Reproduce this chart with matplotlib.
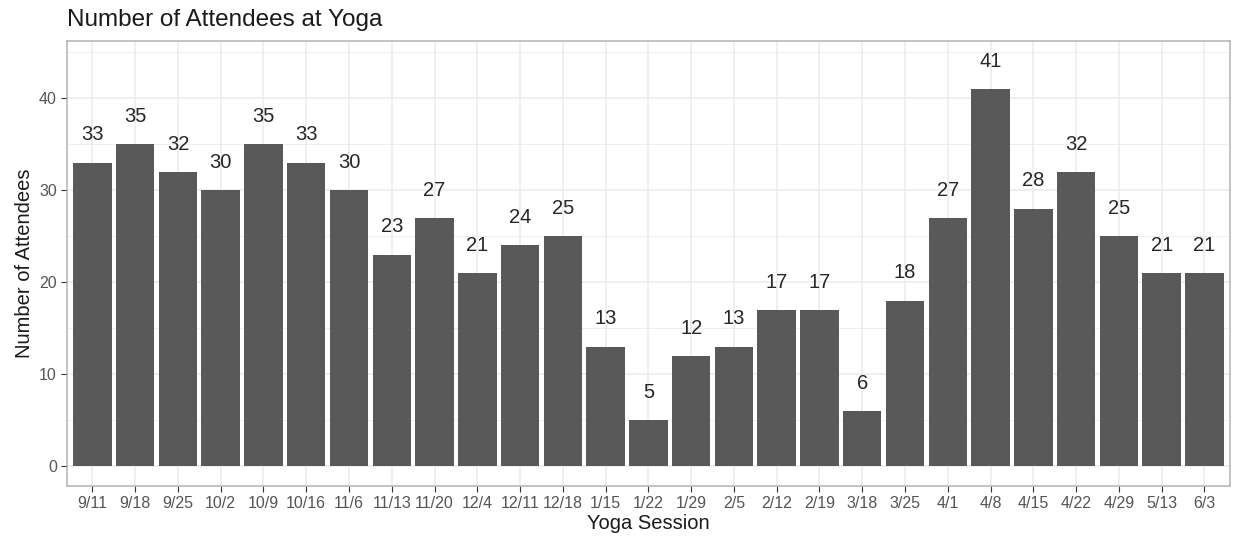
import matplotlib.pyplot as plt
from matplotlib.ticker import MultipleLocator

# Data
sessions = ['9/11', '9/18', '9/25', '10/2', '10/9', '10/16', '11/6', '11/13', '11/20',
            '12/4', '12/11', '12/18', '1/15', '1/22', '1/29', '2/5', '2/12', '2/19',
            '3/18', '3/25', '4/1', '4/8', '4/15', '4/22', '4/29', '5/13', '6/3']
attendees = [33, 35, 32, 30, 35, 33, 30, 23, 27, 21, 24, 25, 13, 5, 12, 13, 17, 17,
             6, 18, 27, 41, 28, 32, 25, 21, 21]

plt.rcParams['font.family'] = ['Liberation Sans', 'DejaVu Sans']

fig = plt.figure(figsize=(12.35, 5.39), dpi=100)
ax = fig.add_axes([0.0540, 0.0977, 0.9420, 0.826])

x = range(len(sessions))
ax.bar(x, attendees, width=0.9, color='#595959', zorder=3)
for xi, v in zip(x, attendees):
    ax.text(xi, v + 3, str(v), ha='center', va='center', fontsize=14.5, color='#262626', zorder=4)

ax.set_xlim(-0.6, len(sessions) - 0.4)
ax.set_ylim(-2.2, 46.2)
ax.set_xticks(list(x))
ax.set_xticklabels(sessions)
ax.yaxis.set_major_locator(MultipleLocator(10))
ax.yaxis.set_minor_locator(MultipleLocator(5))

# theme_bw-like grid and frame
ax.grid(which='major', color='#EBEBEB', linewidth=1.1, zorder=0)
ax.grid(which='minor', axis='y', color='#EBEBEB', linewidth=0.6, zorder=0)
ax.set_axisbelow(True)
for s in ax.spines.values():
    s.set_color('#B3B3B3')
    s.set_linewidth(1.1)
ax.tick_params(which='major', length=4, color='#333333', labelsize=11.5, labelcolor='#555555', pad=3)
ax.tick_params(which='minor', length=0)

ax.set_xlabel('Yoga Session', fontsize=14.5, color='#1A1A1A', labelpad=2)
ax.set_ylabel('Number of Attendees', fontsize=14.5, color='#1A1A1A', labelpad=4)
fig.text(0.0540, 0.9518, 'Number of Attendees at Yoga', fontsize=17.5, color='#1A1A1A',
         va='baseline', ha='left')

plt.savefig('out.png', dpi=100)
